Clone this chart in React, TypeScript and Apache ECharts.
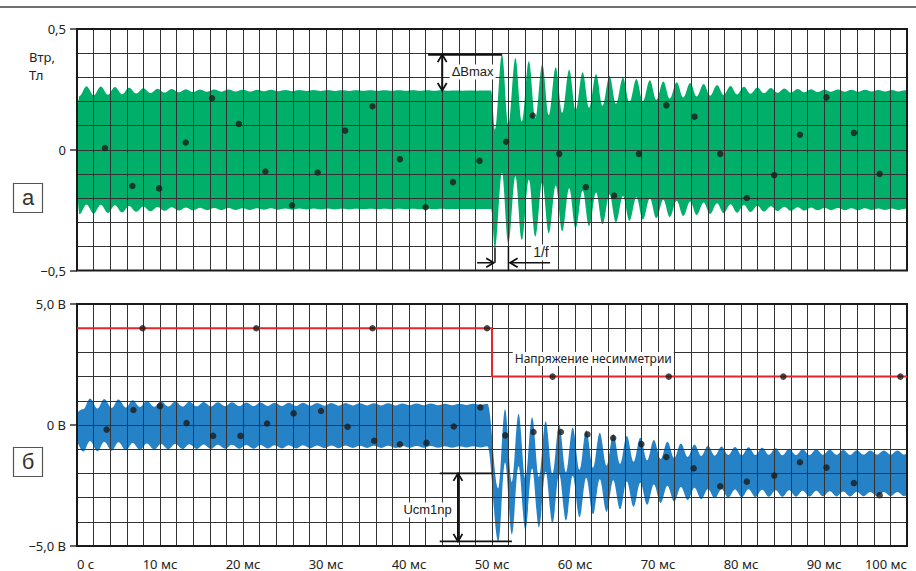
import React, { useEffect, useRef } from 'react';
import * as echarts from 'echarts';

// ---------- axis labels ----------
const timeLabelValues = [0, 10, 20, 30, 40, 50, 60, 70, 80, 90, 100];
const timeLabelTexts = ['0 с', '10 мс', '20 мс', '30 мс', '40 мс', '50 мс', '60 мс', '70 мс', '80 мс', '90 мс', '100 мс'];
const fluxLabelValues = [-0.5, 0, 0.5];
const fluxLabelTexts = ['−0,5', '0', '0,5'];
const voltLabelValues = [-5, 0, 5];
const voltLabelTexts = ['−5,0 В', '0 В', '5,0 В'];

// ---------- (а) flux density Втр, Тл ----------
// The fast carrier fills a ribbon; its slow swing is given by the outer
// extremes of the edges (crests of the upper edge, troughs of the lower edge)
// and by the ribbon's half-height.
const fluxHalfBand = 0.245;
const fluxStartEdges = [0.145, -0.145];
const fluxPreTroughStart = 0.3;
const fluxPreCrestStart = 1.15;
const fluxPrePeriod = 1.71;
const fluxPreTroughs = [-0.267, -0.265, -0.262, -0.26, -0.257, -0.255, -0.253, -0.252, -0.251, -0.25, -0.25, -0.249, -0.249, -0.248, -0.248, -0.248, -0.247, -0.247, -0.247, -0.247, -0.246, -0.246, -0.246, -0.246, -0.246, -0.246, -0.246, -0.246, -0.246, -0.245];
const fluxPreCrests = [0.263, 0.262, 0.26, 0.257, 0.255, 0.253, 0.252, 0.251, 0.25, 0.249, 0.249, 0.248, 0.248, 0.248, 0.247, 0.247, 0.247, 0.247, 0.246, 0.246, 0.246, 0.246, 0.246, 0.246, 0.246, 0.246, 0.245, 0.245, 0.245];
const fluxPostTroughStart = 50.36;
const fluxPostCrestStart = 51.2;
const fluxPostPeriod = 1.62;
const fluxPostTroughs = [-0.407, -0.386, -0.373, -0.36, -0.346, -0.337, -0.325, -0.316, -0.308, -0.3, -0.294, -0.289, -0.283, -0.278, -0.274, -0.27, -0.266, -0.263, -0.261, -0.258, -0.256, -0.254, -0.253, -0.252, -0.251, -0.25, -0.25, -0.25, -0.249, -0.249, -0.249, -0.249];
const fluxPostCrests = [0.394, 0.38, 0.367, 0.354, 0.342, 0.331, 0.321, 0.313, 0.305, 0.298, 0.293, 0.288, 0.283, 0.279, 0.276, 0.272, 0.268, 0.264, 0.261, 0.258, 0.256, 0.254, 0.252, 0.251, 0.25, 0.249, 0.248, 0.248, 0.247, 0.247, 0.246];
const fluxSampleTimes = [3.37, 6.67, 9.9, 13.1, 16.27, 19.5, 22.7, 25.9, 29.0, 32.3, 35.6, 38.9, 42.0, 45.3, 48.5, 51.7, 54.9, 58.1, 61.3, 64.7, 67.7, 71.0, 74.4, 77.5, 80.7, 84.0, 87.1, 90.3, 93.6, 96.7];
const fluxSamples = [0.007, -0.15, -0.16, 0.03, 0.213, 0.107, -0.09, -0.23, -0.094, 0.079, 0.18, -0.039, -0.238, -0.134, -0.046, 0.033, 0.142, -0.017, -0.155, -0.19, -0.017, 0.184, 0.137, -0.017, -0.2, -0.105, 0.062, 0.217, 0.07, -0.1];

// ---------- (б) voltage, В ----------
const voltHalfBand = 0.88;
const voltStartEdges = [0.51, -0.66];
const voltPreTroughStart = 0.76;
const voltPreCrestStart = 1.57;
const voltPrePeriod = 1.71;
const voltPreTroughs = [-1.1, -1.08, -1.06, -1.04, -1.02, -1.01, -1.0, -1.0, -0.99, -0.99, -0.98, -0.98, -0.98, -0.97, -0.97, -0.97, -0.96, -0.96, -0.96, -0.95, -0.95, -0.95, -0.95, -0.94, -0.94, -0.94, -0.94, -0.93, -0.93];
const voltPreCrests = [1.1, 1.07, 1.05, 1.02, 1.0, 0.98, 0.97, 0.96, 0.95, 0.94, 0.94, 0.93, 0.93, 0.92, 0.92, 0.92, 0.91, 0.91, 0.91, 0.9, 0.9, 0.9, 0.89, 0.89, 0.89, 0.88, 0.88, 0.88, 0.88];
const voltPostTroughStart = 50.76;
const voltPostCrestStart = 51.57;
const voltPostPeriod = 1.63;
const voltPostTroughs = [-4.81, -4.52, -4.33, -4.23, -4.06, -3.95, -3.81, -3.69, -3.58, -3.48, -3.38, -3.3, -3.22, -3.16, -3.1, -3.06, -3.03, -3.0, -2.99, -2.98, -2.97, -2.97, -2.96, -2.96, -2.95, -2.95, -2.95, -2.94, -2.94, -2.94, -2.94];
const voltPostCrests = [0.65, 0.46, 0.32, 0.15, 0.01, -0.1, -0.22, -0.32, -0.38, -0.45, -0.53, -0.62, -0.69, -0.76, -0.81, -0.86, -0.89, -0.91, -0.92, -0.94, -0.96, -0.98, -1.0, -1.0, -1.02, -1.03, -1.04, -1.05, -1.05, -1.05, -1.05];
// ribbon half-height per cycle after the step (wider during the transient)
const voltPostHalfBands = [1.1, 1.08, 1.06, 1.04, 1.02, 1.0, 0.98, 0.96, 0.95, 0.94, 0.93, 0.92, 0.91, 0.9, 0.89, 0.89, 0.88, 0.88, 0.87, 0.87, 0.87, 0.86, 0.86, 0.86, 0.86, 0.86, 0.86, 0.86, 0.86, 0.86, 0.86];
const voltSampleTimes = [3.57, 6.8, 10.0, 13.2, 16.4, 19.7, 22.9, 26.1, 29.4, 32.6, 35.8, 38.9, 42.1, 45.4, 48.6, 51.6, 55.0, 58.3, 61.5, 64.6, 68.0, 71.0, 74.3, 77.5, 80.7, 84.0, 87.1, 90.3, 93.6, 96.7];
const voltSamples = [-0.19, 0.62, 0.78, 0.08, -0.45, -0.45, 0.06, 0.48, 0.58, -0.07, -0.65, -0.8, -0.74, -0.06, 0.73, -0.43, -0.29, -0.29, -0.39, -0.54, -0.79, -1.32, -1.79, -2.53, -2.34, -2.09, -1.54, -1.76, -2.4, -2.9];

// asymmetry voltage step
const asymmetryTimes = [0, 50, 50, 100];
const asymmetryLevels = [4, 4, 2, 2];
const asymmetryMarkTimes = [7.9, 21.6, 35.6, 49.4, 57.3, 71.3, 85.1, 99.2];
const asymmetryMarkLevels = [4, 4, 4, 4, 2, 2, 2, 2];

const GREEN = '#00b06a';
const BLUE = '#2682c6';
const RED = '#e8262a';
const INK = '#1b1b1b';
const GRIDLINE = '#333333';
const LABEL_FONT = '"Noto Sans", "Open Sans", sans-serif';
const NOTE_FONT = '"Liberation Sans", Arial, sans-serif';

type Pt = { t: number; lo: number; hi: number };

function extremes(
  troughStart: number,
  crestStart: number,
  period: number,
  troughs: number[],
  crests: number[],
  half: number | number[],
): Pt[] {
  const h = (k: number) => (Array.isArray(half) ? half[Math.min(k, half.length - 1)] : half);
  const pts: Pt[] = [];
  troughs.forEach((v, k) => pts.push({ t: troughStart + k * period, lo: v, hi: v + 2 * h(k) }));
  crests.forEach((v, k) => pts.push({ t: crestStart + k * period, lo: v - 2 * h(k), hi: v }));
  return pts.sort((a, b) => a.t - b.t);
}

function ribbon(start: number[], parts: Pt[][]) {
  const all: Pt[] = [{ t: 0, hi: start[0], lo: start[1] }, ...parts.flat()];
  return {
    upper: all.map((p) => [p.t, p.hi]),
    lower: all.map((p) => [p.t, p.lo]),
  };
}

const zip = (a: number[], b: number[]) => a.map((v, i) => [v, b[i]]);

const labelFor = (values: number[], texts: string[]) => (v: number) => {
  const i = values.findIndex((x) => Math.abs(x - v) < 1e-6);
  return i >= 0 ? texts[i] : '';
};

// The ribbon is painted as the area under its upper edge, then the area under
// its lower edge is painted back in the page colour; the grid sits above both.
function ribbonSeries(id: string, data: { upper: number[][]; lower: number[][] }, color: string, xi: number, yi: number) {
  const common = {
    type: 'line',
    xAxisIndex: xi,
    yAxisIndex: yi,
    smooth: 0.36,
    smoothMonotone: 'x',
    symbol: 'none',
    showSymbol: false,
    silent: true,
    lineStyle: { width: 0, opacity: 0 },
  };
  return [
    { ...common, name: id + '-upper', data: data.upper, z: 1, areaStyle: { color, opacity: 1, origin: 'start' } },
    { ...common, name: id + '-lower', data: data.lower, z: 1.5, areaStyle: { color: '#ffffff', opacity: 1, origin: 'start' } },
  ];
}

export default function App() {
  const ref = useRef<HTMLDivElement>(null);

  useEffect(() => {
    if (!ref.current) return;
    const chart = echarts.init(ref.current, null, { renderer: 'svg' });

    const flux = ribbon(fluxStartEdges, [
      extremes(fluxPreTroughStart, fluxPreCrestStart, fluxPrePeriod, fluxPreTroughs, fluxPreCrests, fluxHalfBand),
      extremes(fluxPostTroughStart, fluxPostCrestStart, fluxPostPeriod, fluxPostTroughs, fluxPostCrests, fluxHalfBand),
    ]);
    const volt = ribbon(voltStartEdges, [
      extremes(voltPreTroughStart, voltPreCrestStart, voltPrePeriod, voltPreTroughs, voltPreCrests, voltHalfBand),
      extremes(voltPostTroughStart, voltPostCrestStart, voltPostPeriod, voltPostTroughs, voltPostCrests, voltPostHalfBands),
    ]);

    const gridAxisX = (gridIndex: number, showLabels: boolean) => ({
      type: 'value',
      gridIndex,
      min: 0,
      max: 100,
      interval: 2,
      z: 3,
      axisLine: { show: false },
      axisTick: { show: false },
      splitLine: { show: true, lineStyle: { color: GRIDLINE, width: 1 } },
      axisLabel: showLabels
        ? {
            show: true,
            margin: 11,
            color: '#222',
            fontSize: 13,
            fontFamily: LABEL_FONT,
            alignMinLabel: 'left',
            alignMaxLabel: 'right',
            formatter: labelFor(timeLabelValues, timeLabelTexts),
          }
        : { show: false },
    });

    const gridAxisY = (gridIndex: number, min: number, max: number, interval: number) => ({
      type: 'value',
      gridIndex,
      min,
      max,
      interval,
      z: 3,
      axisLine: { show: false },
      axisTick: { show: false },
      axisLabel: { show: false },
      splitLine: { show: true, lineStyle: { color: GRIDLINE, width: 1 } },
    });

    const labelAxisY = (gridIndex: number, min: number, max: number, interval: number, values: number[], texts: string[]) => ({
      type: 'value',
      gridIndex,
      position: 'left',
      min,
      max,
      interval,
      z: 3,
      axisLine: { show: false },
      axisTick: { show: true, length: 7, lineStyle: { color: '#333', width: 1.5 } },
      splitLine: { show: false },
      axisLabel: { show: true, margin: 11, color: '#222', fontSize: 13, fontFamily: LABEL_FONT, formatter: labelFor(values, texts) },
    });

    const dots = (data: number[][], xi: number, yi: number) => ({
      type: 'scatter',
      xAxisIndex: xi,
      yAxisIndex: yi,
      data,
      symbol: 'circle',
      symbolSize: 6.5,
      itemStyle: { color: INK },
      silent: true,
      z: 6,
    });

    const gridBase = {
      left: 77,
      right: 9,
      show: true,
      borderColor: '#1a1a1a',
      borderWidth: 2,
      z: 4,
      containLabel: false,
      outerBoundsMode: 'none',
    };

    chart.setOption({
      animation: false,
      backgroundColor: '#ffffff',
      textStyle: { fontFamily: LABEL_FONT },
      grid: [
        { ...gridBase, top: 29, height: 241.5 },
        { ...gridBase, top: 304, height: 242 },
      ],
      xAxis: [gridAxisX(0, false), gridAxisX(1, true)],
      yAxis: [
        gridAxisY(0, -0.5, 0.5, 0.1),
        labelAxisY(0, -0.5, 0.5, 0.5, fluxLabelValues, fluxLabelTexts),
        gridAxisY(1, -5, 5, 1),
        labelAxisY(1, -5, 5, 5, voltLabelValues, voltLabelTexts),
      ],
      series: [
        ...ribbonSeries('flux', flux, GREEN, 0, 0),
        dots(zip(fluxSampleTimes, fluxSamples), 0, 0),
        ...ribbonSeries('volt', volt, BLUE, 1, 2),
        {
          type: 'line',
          name: 'asymmetry',
          xAxisIndex: 1,
          yAxisIndex: 2,
          data: zip(asymmetryTimes, asymmetryLevels),
          symbol: 'none',
          lineStyle: { color: RED, width: 2 },
          silent: true,
          z: 5,
        },
        dots(zip(asymmetryMarkTimes, asymmetryMarkLevels), 1, 2),
        dots(zip(voltSampleTimes, voltSamples), 1, 2),
      ],
    });

    // ---------- annotations placed through the axes' scales ----------
    const pA = (t: number, v: number) => chart.convertToPixel({ xAxisIndex: 0, yAxisIndex: 0 } as any, [t, v]) as number[];
    const pB = (t: number, v: number) => chart.convertToPixel({ xAxisIndex: 1, yAxisIndex: 2 } as any, [t, v]) as number[];

    const seg = (a: number[], b: number[], w = 2) => ({
      type: 'line',
      shape: { x1: a[0], y1: a[1], x2: b[0], y2: b[1] },
      style: { stroke: '#111', lineWidth: w },
      z: 20,
    });
    const chevron = (p: number[], dir: 'up' | 'down' | 'left' | 'right', size = 4.5, len = 7.5) => {
      const [x, y] = p;
      const pts =
        dir === 'up' ? [[x - size, y + len], [x, y], [x + size, y + len]]
        : dir === 'down' ? [[x - size, y - len], [x, y], [x + size, y - len]]
        : dir === 'right' ? [[x - len, y - size], [x, y], [x - len, y + size]]
        : [[x + len, y - size], [x, y], [x + len, y + size]];
      return { type: 'polyline', shape: { points: pts }, style: { stroke: '#111', lineWidth: 1.8, fill: null }, z: 21 };
    };
    const note = (p: number[], text: string, align: string, font: string) => ({
      type: 'text',
      x: p[0],
      y: p[1],
      z: 22,
      style: {
        text,
        font,
        fill: '#222',
        align,
        textAlign: align,
        verticalAlign: 'middle',
        textVerticalAlign: 'middle',
        backgroundColor: '#ffffff',
        padding: [1, 2, 1, 2],
      },
    });

    // ΔBmax: steady band top vs. first transient crest
    const peakB = fluxPostCrests[0];
    const dBx = 44.0;
    // 1/f: one period between two successive troughs
    const tA = fluxPostTroughStart;
    const tB = fluxPostTroughStart + fluxPostPeriod;
    const yArrow = -0.468;
    // Ucm1np: offset of the first transient trough from the new mean level
    const meanLevel = -2.0;
    const firstTrough = voltPostTroughs[0];
    const uX = 45.9;

    const graphic: any[] = [
      // page rule
      { type: 'line', shape: { x1: 0, y1: 7, x2: 916, y2: 7 }, style: { stroke: '#707070', lineWidth: 2 }, z: 20 },
      // unit caption
      { type: 'text', x: 29, y: 57, z: 22, style: { text: 'Втр,', font: '13px ' + LABEL_FONT, fill: '#222', verticalAlign: 'middle', textVerticalAlign: 'middle' } },
      { type: 'text', x: 29, y: 75, z: 22, style: { text: 'Тл', font: '13px ' + LABEL_FONT, fill: '#222', verticalAlign: 'middle', textVerticalAlign: 'middle' } },
      // panel tags
      { type: 'rect', shape: { x: 13.5, y: 183.5, width: 29, height: 29 }, style: { stroke: '#555', lineWidth: 1.2, fill: '#fff' }, z: 20 },
      { type: 'text', x: 28, y: 197, z: 22, style: { text: 'а', font: '22px ' + NOTE_FONT, fill: '#333', align: 'center', textAlign: 'center', verticalAlign: 'middle', textVerticalAlign: 'middle' } },
      { type: 'rect', shape: { x: 13.5, y: 447.5, width: 29, height: 29 }, style: { stroke: '#555', lineWidth: 1.2, fill: '#fff' }, z: 20 },
      { type: 'text', x: 28, y: 461, z: 22, style: { text: 'б', font: '22px ' + NOTE_FONT, fill: '#333', align: 'center', textAlign: 'center', verticalAlign: 'middle', textVerticalAlign: 'middle' } },

      // ΔBmax
      seg(pA(42.3, peakB), pA(fluxPostCrestStart, peakB), 2.2),
      seg(pA(dBx, peakB), pA(dBx, fluxHalfBand), 2),
      chevron(pA(dBx, peakB), 'up'),
      chevron(pA(dBx, fluxHalfBand), 'down'),
      note(pA(44.9, 0.322), 'ΔBmax', 'left', '13px ' + NOTE_FONT),

      // 1/f
      seg(pA(tA, -0.405), pA(tA, yArrow), 1.5),
      seg(pA(tB, -0.4), pA(tB, -0.5), 1.5),
      seg(pA(48.2, yArrow), pA(tA - 0.15, yArrow), 1.5),
      chevron(pA(tA - 0.15, yArrow), 'right'),
      seg(pA(tB + 0.2, yArrow), pA(57.0, yArrow), 1.5),
      chevron(pA(tB + 0.2, yArrow), 'left'),
      note(pA(55.9, -0.425), '1/f', 'center', '14px ' + NOTE_FONT),

      // Ucm1np
      seg(pB(43.7, meanLevel), pB(50.0, meanLevel), 1.6),
      seg(pB(43.7, firstTrough), pB(52.4, firstTrough), 1.6),
      seg(pB(uX, meanLevel), pB(uX, firstTrough), 2),
      chevron(pB(uX, meanLevel), 'up'),
      chevron(pB(uX, firstTrough), 'down'),
      note(pB(45.4, -3.51), 'Ucm1np', 'right', '13px ' + NOTE_FONT),

      // asymmetry caption
      note(pB(52.5, 2.73), 'Напряжение несимметрии', 'left', '12px ' + LABEL_FONT),
    ];

    chart.setOption({ graphic });

    return () => {
      chart.dispose();
    };
  }, []);

  return (
    <div
      ref={ref}
      style={{ position: 'absolute', left: 0, top: 0, width: 916, height: 571, background: '#fff' }}
    />
  );
}
